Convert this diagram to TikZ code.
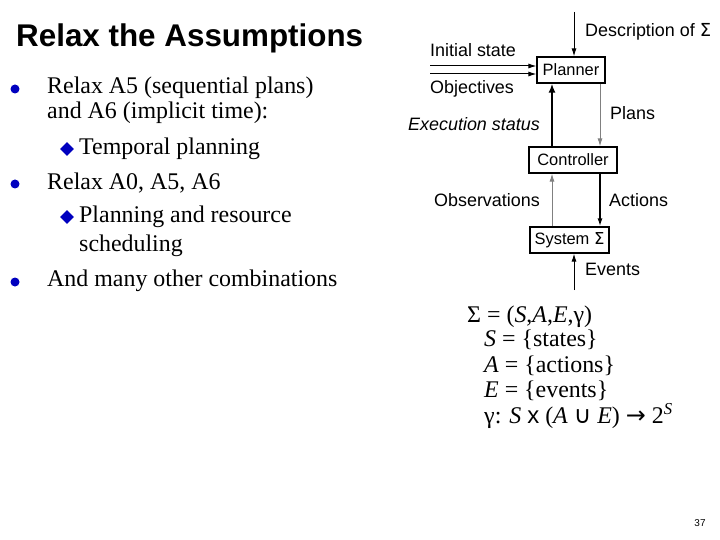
\documentclass[tikz,border=0pt]{standalone}
\usepackage{fontspec}
\usetikzlibrary{shapes.geometric,arrows.meta}
\setmainfont{Liberation Serif}
\newfontfamily\sans{Liberation Sans}
\newfontfamily\djv{DejaVu Sans}
\begin{document}
\begin{tikzpicture}[x=1bp,y=-1bp,
  box/.style={draw,line width=1.2bp,fill=white,font=\sans\fontsize{16.5}{19}\selectfont,inner sep=0pt,minimum height=26bp},
  lbl/.style={font=\sans\fontsize{18}{20}\selectfont,inner sep=0pt},
  body/.style={font=\fontsize{24}{28}\selectfont,anchor=west,inner sep=0pt},
  dot/.style={circle,fill=blue!75!black,inner sep=0pt,minimum size=9bp},
  dia/.style={diamond,fill=blue!75!black,inner sep=0pt,minimum size=14bp},
  arr/.style={-{Latex[length=8bp,width=5bp]},line width=1bp}]
\useasboundingbox (0,0) rectangle (720,540);
\node[anchor=west,inner sep=0pt,font=\sans\bfseries\fontsize{31.5}{34}\selectfont] (title) at (16,38) {Relax the Assumptions};
\node[dot] (b1) at (15,89) {};
\node[body] (t1) at (47,88) {Relax A5 (sequential plans)};
\node[body] (t1b) at (47,113) {and A6 (implicit time):};
\node[dia] (d1) at (67,149) {};
\node[body] (s1) at (79,149) {Temporal planning};
\node[dot] (b2) at (15,184) {};
\node[body] (t2) at (47,183) {Relax A0, A5, A6};
\node[dia] (d2) at (67,217) {};
\node[body] (s2) at (79,217) {Planning and resource};
\node[body] (s2b) at (79,246) {scheduling};
\node[dot] (b3) at (15,282) {};
\node[body] (t3) at (47,281) {And many other combinations};
% diagram
\node[box,minimum width=68bp] (pl) at (571,70) {Planner};
\node[box,minimum width=88bp] (co) at (573,160) {Controller};
\node[box,minimum width=79bp] (sy) at (569.5,240) {System \djv Σ};
\coordinate (dtop) at (574,12);
\coordinate (is) at (430,66);
\coordinate (ob) at (430,74);
\coordinate (ev) at (574,290);
\draw[arr] (dtop) -- (dtop|-pl.north);
\draw[arr] (is) -- (is-|pl.west);
\draw[arr] (ob) -- (ob-|pl.west);
\draw[-{Latex[length=9bp,width=7bp]},line width=2.5bp] (co.north-|552,0) -- (pl.south-|552,0);
\draw[arr,gray] (pl.south-|600,0) -- (co.north-|600,0);
\draw[arr,gray] (sy.north-|552,0) -- (co.south-|552,0);
\draw[arr,line width=1.5bp] (co.south-|600,0) -- (sy.north-|600,0);
\draw[arr] (ev) -- (ev|-sy.south);
\node[lbl,anchor=west] (ld) at (585,32) {Description of {\djv Σ}};
\node[lbl,anchor=west] (li) at (430,50) {Initial state};
\node[lbl,anchor=west] (lo) at (430,89) {Objectives};
\node[lbl,anchor=east,font=\sans\itshape\fontsize{18}{20}\selectfont] (le) at (540,124) {Execution status};
\node[lbl,anchor=west] (lp) at (610,113) {Plans};
\node[lbl,anchor=east] (lob) at (540,200) {Observations};
\node[lbl,anchor=west] (la) at (609,200) {Actions};
\node[lbl,anchor=west] (lev) at (585,269) {Events};
% formula
\node[body] (f1) at (467,317) {Σ = (\textit{S},\textit{A},\textit{E},γ)};
\node[body] (f2) at (484,340) {\textit{S} = \{states\}};
\node[body] (f3) at (484,366) {\textit{A} = \{actions\}};
\node[body] (f4) at (484,391) {\textit{E} = \{events\}};
\node[body] (f5) at (484,416) {γ: \textit{S} {\sans x} (\textit{A} {\djv ∪} \textit{E}) {\djv→} 2\textsuperscript{\textit{S}}};
\node[inner sep=0pt,font=\sans\fontsize{10}{11}\selectfont] (pg) at (700,523) {37};
\end{tikzpicture}
\end{document}
